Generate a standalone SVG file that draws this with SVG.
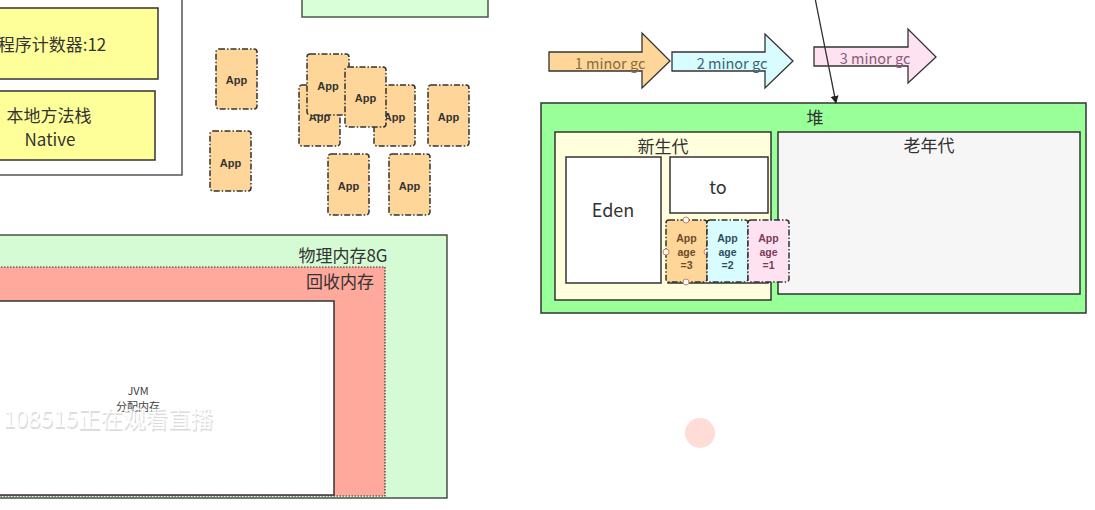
<svg xmlns="http://www.w3.org/2000/svg" width="1095" height="510" viewBox="0 0 1095 510">
<defs>
<style>
text{font-family:"Microsoft YaHei","Noto Sans CJK SC","Liberation Sans",sans-serif;}
.box{stroke:#333;stroke-width:1.5;}
.lbl{font-size:17px;fill:#333;text-anchor:middle;dominant-baseline:central;}
.app{fill:#ffd699;stroke:#333;stroke-width:1.5;stroke-dasharray:6 2 1.5 2;}
.apptxt{font-family:"Liberation Sans",Arial,sans-serif;font-size:11px;font-weight:bold;fill:#333;text-anchor:middle;dominant-baseline:central;}
.age{font-family:"Liberation Sans",Arial,sans-serif;font-size:10.5px;font-weight:bold;text-anchor:middle;dominant-baseline:central;}
.gc{font-size:14.5px;text-anchor:middle;dominant-baseline:central;}
.handle{fill:#fff;stroke:#d08060;stroke-width:1;}
</style>
<marker id="ah" viewBox="0 0 10 10" refX="9" refY="5" markerWidth="8" markerHeight="8" orient="auto" markerUnits="userSpaceOnUse">
<path d="M0,0 L10,5 L0,10 z" fill="#222"/>
</marker>
</defs>
<rect width="1095" height="510" fill="#fff"/>

<!-- top-left thread area -->
<g id="thread-area">
<rect x="-20" y="-20" width="202" height="195" fill="#fff" stroke="#555" stroke-width="1.5"/>
</g>
<g id="pc-counter">
<rect class="box" x="-60" y="8" width="218" height="71" fill="#ffff99"/>
<text class="lbl" x="52" y="43">程序计数器:12</text>
</g>
<g id="native-stack">
<rect class="box" x="-60" y="91" width="215" height="69" fill="#ffff99"/>
<text class="lbl" x="49" y="114">本地方法栈</text>
<text class="lbl" x="50" y="138">Native</text>
</g>
<g id="top-green-box">
<rect x="302" y="-10" width="186" height="27" fill="#d8ffd8" stroke="#4a5a4a" stroke-width="1.5"/>
</g>

<!-- App cards -->
<g id="app1"><rect class="app" x="216" y="49" width="41" height="60" rx="3"/><text class="apptxt" x="236.5" y="80">App</text></g>
<g id="app2"><rect class="app" x="210" y="131" width="41" height="60" rx="3"/><text class="apptxt" x="230.5" y="163">App</text></g>
<g id="app3"><rect class="app" x="299" y="85" width="41" height="61" rx="3"/><text class="apptxt" x="319.5" y="117">App</text></g>
<g id="app6"><rect class="app" x="374" y="85" width="41" height="61" rx="3"/><text class="apptxt" x="394.5" y="117">App</text></g>
<g id="app4"><rect class="app" x="307" y="54" width="42" height="61" rx="3"/><text class="apptxt" x="328" y="86">App</text></g>
<g id="app5"><rect class="app" x="345" y="67" width="41" height="60" rx="3"/><text class="apptxt" x="365.5" y="98">App</text></g>
<g id="app7"><rect class="app" x="428" y="85" width="41" height="61" rx="3"/><text class="apptxt" x="448.5" y="117">App</text></g>
<g id="app8"><rect class="app" x="328" y="154" width="41" height="61" rx="3"/><text class="apptxt" x="348.5" y="186">App</text></g>
<g id="app9"><rect class="app" x="389" y="154" width="41" height="61" rx="3"/><text class="apptxt" x="409.5" y="186">App</text></g>

<!-- minor gc arrows -->
<g id="gc1">
<path d="M549,52 L642,52 L642,33 L670,61 L642,88 L642,71 L549,71 Z" fill="#ffd699" stroke="#333" stroke-width="1.3"/>
<text class="gc" x="610" y="62" fill="#8a6a40">1 minor gc</text>
</g>
<g id="gc2">
<path d="M672,52 L765,52 L765,34 L793,61 L765,88 L765,71 L672,71 Z" fill="#d8fcff" stroke="#333" stroke-width="1.3"/>
<text class="gc" x="732" y="62" fill="#3d6475">2 minor gc</text>
</g>
<g id="gc3">
<path d="M814,47 L908,47 L908,29 L936,57 L908,83 L908,66 L814,66 Z" fill="#ffe2f2" stroke="#333" stroke-width="1.3"/>
<text class="gc" x="875" y="57" fill="#8a5a78">3 minor gc</text>
</g>

<!-- heap -->
<g id="heap">
<rect class="box" x="541" y="103" width="545" height="210" fill="#99ff99"/>
<text class="lbl" x="815" y="116">堆</text>
</g>
<g id="young-gen">
<rect class="box" x="555" y="132" width="216" height="168" fill="#ffffdd"/>
<text class="lbl" x="663" y="145">新生代</text>
</g>
<g id="eden">
<rect class="box" x="566" y="157" width="95" height="126" fill="#fff"/>
<text class="lbl" x="613" y="209" style="font-size:18px">Eden</text>
</g>
<g id="to">
<rect class="box" x="670" y="157" width="98" height="56" fill="#fff"/>
<text class="lbl" x="718" y="186" style="font-size:18px">to</text>
</g>
<g id="from">
<rect class="box" x="668" y="222" width="100" height="61" fill="#fff"/>
</g>
<g id="old-gen">
<rect class="box" x="778" y="132" width="302" height="162" fill="#f6f6f6"/>
<text class="lbl" x="929" y="144">老年代</text>
</g>
<g id="age3">
<rect class="app" x="666" y="220" width="41" height="62" rx="3" fill="#ffd699"/>
<text class="age" x="686.5" y="238" fill="#6b4a2a">App</text>
<text class="age" x="686.5" y="251.5" fill="#6b4a2a">age</text>
<text class="age" x="686.5" y="264.5" fill="#6b4a2a">=3</text>
<circle class="handle" cx="686" cy="220" r="3"/>
<circle class="handle" cx="666" cy="252" r="3"/>
<circle class="handle" cx="707" cy="252" r="3"/>
<circle class="handle" cx="686" cy="282" r="3"/>
</g>
<g id="age2">
<rect class="app" x="707" y="220" width="41" height="62" rx="3" style="fill:#d8fcff"/>
<text class="age" x="727.5" y="238" fill="#2f4f5f">App</text>
<text class="age" x="727.5" y="251.5" fill="#2f4f5f">age</text>
<text class="age" x="727.5" y="264.5" fill="#2f4f5f">=2</text>
</g>
<g id="age1">
<rect class="app" x="748" y="220" width="41" height="62" rx="3" style="fill:#ffe2f2"/>
<text class="age" x="768.5" y="238" fill="#7a3a5a">App</text>
<text class="age" x="768.5" y="251.5" fill="#7a3a5a">age</text>
<text class="age" x="768.5" y="264.5" fill="#7a3a5a">=1</text>
</g>

<!-- memory boxes -->
<g id="physical-memory">
<rect x="-20" y="235" width="467" height="263" fill="#d5fbd5" stroke="#333" stroke-width="1.3"/>
<text class="lbl" x="343" y="254">物理内存8G</text>
</g>
<g id="recycle-memory">
<rect x="-20" y="267" width="405" height="229" fill="#ffa89c" stroke="#333" stroke-width="1.2" stroke-dasharray="1.5 1.5"/>
<text class="lbl" x="340" y="280">回收内存</text>
</g>
<g id="jvm-memory">
<rect x="-20" y="301" width="354" height="194" fill="#fff" stroke="#333" stroke-width="1.5"/>
<text x="138" y="390" style="font-size:11px;fill:#444;text-anchor:middle;dominant-baseline:central">JVM</text>
<text x="138" y="406" style="font-size:11px;fill:#444;text-anchor:middle;dominant-baseline:central">分配内存</text>
</g>

<!-- connectors -->
<g id="connectors">
<line x1="815" y1="-2" x2="836" y2="103" stroke="#333" stroke-width="1.3" marker-end="url(#ah)"/>
</g>

<!-- overlay -->
<g id="overlay">
<text x="3" y="427" style="font-size:22.5px;fill:#999;opacity:0.35" transform="translate(1,1.5)">108515正在观看直播</text>
<text x="3" y="427" style="font-size:22.5px;fill:#fff;opacity:0.9">108515正在观看直播</text>
<circle cx="700" cy="433" r="15" fill="#ffd0c8" opacity="0.75"/>
</g>
</svg>
